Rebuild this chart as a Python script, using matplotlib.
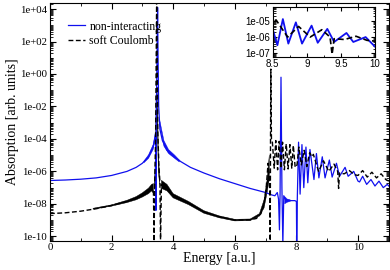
import numpy as np
import matplotlib.pyplot as plt
from matplotlib.ticker import LogLocator, MultipleLocator, FuncFormatter, NullFormatter

plt.rcParams['font.family'] = ['Liberation Serif', 'DejaVu Serif']

# non-interacting spectrum: energy [a.u.] and log10(absorption)
ni_energy = [0.0, 0.5, 1.0, 1.5, 2.0, 2.5, 2.8, 3.0, 3.2, 3.35, 3.43, 3.44, 3.45,
             3.48, 3.495, 3.51, 3.53, 3.57, 3.65, 3.8, 4.0, 4.25, 4.56, 5.0, 5.5, 6.0,
             6.5, 7.0, 7.2, 7.3, 7.38, 7.42, 7.45, 7.47, 7.5, 7.53, 7.56, 7.59,
             7.65, 7.8, 7.95, 8.0, 8.01, 8.03, 8.07, 8.12, 8.18, 8.24, 8.31, 8.37,
             8.44, 8.5, 8.57, 8.65, 8.73, 8.84, 8.93, 9.07, 9.16, 9.3, 9.4, 9.58,
             9.68, 9.86, 10.0, 10.05, 10.15, 10.28, 10.42, 10.55, 10.68, 10.82,
             10.95, 11.0]
ni_log = [-6.56, -6.53, -6.48, -6.4, -6.25, -6.0, -5.75, -5.5, -5.1, -4.5, -3.8, -8.4, -3.0,
          1.6, 4.1, 1.0, -2.0, -3.4, -4.1, -4.7, -5.05, -5.4, -5.75, -6.1, -6.45, -6.75,
          -7.05, -7.3, -7.45, -7.5, -7.3, -7.7, -9.6, -7.4, -0.2, -7.0, -10.5, -7.5,
          -7.75, -7.8, -7.8, -7.85, -10.5, -7.6, -4.2, -7.4, -4.35, -7.0, -4.5, -6.7,
          -4.65, -5.5, -6.5, -4.9, -6.4, -5.1, -6.4, -5.3, -6.35, -5.5, -6.3, -5.75,
          -6.3, -6.0, -6.6, -6.65, -6.3, -6.8, -6.5, -6.9, -6.6, -7.0,
          -6.8, -6.9]
# spread of the fast oscillations around the blue curve
ni_band_energy = [3.05, 3.2, 3.35, 3.42, np.nan, 3.56, 3.7, 3.85, 4.05, 4.2, np.nan, 7.62, 7.7, 7.8]
ni_band_lo = [-5.47, -5.2, -4.65, -4.0, np.nan, -3.1, -4.45, -4.9, -5.2, -5.42, np.nan, -8.0, -7.9, -7.85]
ni_band_hi = [-5.37, -4.98, -4.35, -3.6, np.nan, -2.8, -4.1, -4.65, -5.0, -5.3, np.nan, -7.55, -7.7, -7.75]

# soft Coulomb spectrum
sc_energy = [0.0, 0.5, 1.0, 1.5, 2.0, 2.5, 2.8, 3.0, 3.2, 3.3, 3.36, 3.38, 3.4,
             3.43, 3.465, 3.5, 3.54, 3.57, 3.59, 3.62, 3.75, 4.0, 4.5, 5.0, 5.5,
             6.0, 6.5, 6.7, 6.85, 6.95, 7.02, 7.08, 7.13, 7.15, 7.16, 7.17, 7.19,
             7.22, 7.28, 7.33, 7.39, 7.44, 7.5, 7.55, 7.61, 7.67, 7.73, 7.79, 7.85,
             7.9, 7.96, 8.02, 8.08, 8.16, 8.25, 8.34, 8.43, 8.5, 8.55, 8.72, 8.88,
             9.05, 9.22, 9.34, 9.37, 9.4, 9.55, 9.72, 9.88, 10.0, 10.15, 10.3,
             10.45, 10.6, 10.75, 10.9, 11.0]
sc_log = [-8.6, -8.55, -8.45, -8.3, -8.1, -7.85, -7.65, -7.45, -7.2, -7.0, -7.2, -10.3, -6.8,
          -4.0, 5.0, -3.5, -5.8, -6.6, -10.2, -6.8, -7.0, -7.5, -7.95, -8.5, -8.8,
          -9.0, -8.98, -8.9, -8.6, -8.0, -7.0, -5.5, -6.5, -10.5, -4.0, 0.3, -4.0,
          -4.2, -5.8, -4.1, -5.9, -4.15, -5.8, -4.2, -5.9, -4.3, -5.85, -4.35, -5.8,
          -4.4, -5.75, -5.6, -4.5, -5.6, -4.7, -5.7, -4.85, -5.1, -4.95, -6.0, -5.35,
          -6.0, -5.55, -6.0, -7.05, -6.1, -6.15, -5.95, -6.2, -6.25, -5.95, -6.35,
          -6.05, -6.4, -6.15, -6.5, -6.6]
# spread of the fast oscillations around the black curve
sc_band_energy = [1.4, 2.0, 2.5, 2.8, 3.0, 3.2, 3.3, 3.36, np.nan, 3.4, 3.43, 3.45, np.nan,
                  3.49, 3.52, 3.56, np.nan, 3.62, 3.8, 4.0, 4.5, 5.0, 5.5, 6.0, 6.5,
                  6.8, 6.95, 7.05, 7.12]
sc_band_lo = [-8.33, -8.14, -7.92, -7.75, -7.58, -7.37, -7.2, -7.35, np.nan, -7.1, -5.5, -3.5, np.nan,
              -3.5, -6.0, -6.8, np.nan, -7.05, -7.2, -7.63, -8.05, -8.58, -8.86, -9.05, -9.03,
              -8.75, -8.25, -7.3, -6.5]
sc_band_hi = [-8.27, -8.06, -7.78, -7.55, -7.32, -7.03, -6.8, -6.75, np.nan, -6.5, -4.5, -1.0, np.nan,
              -1.0, -5.0, -6.2, np.nan, -6.55, -6.8, -7.37, -7.85, -8.42, -8.74, -8.95, -8.93,
              -8.6, -7.75, -6.5, -5.0]

x_ticks = [0, 2, 4, 6, 8, 10]
inset_x_ticks = [8.5, 9, 9.5, 10]
inset_x_labels = ['8.5', '9', '9.5', '10']


def draw(ax, lw_ni, lw_sc, with_labels):
    ax.fill_between(ni_band_energy, 10.0 ** np.array(ni_band_lo), 10.0 ** np.array(ni_band_hi),
                    color='#1010ee', lw=0.3)
    ax.plot(ni_energy, 10.0 ** np.array(ni_log), color='#1010ee', lw=lw_ni,
            label='non-interacting' if with_labels else None)
    ax.fill_between(sc_band_energy, 10.0 ** np.array(sc_band_lo), 10.0 ** np.array(sc_band_hi),
                    color='black', lw=0.3)
    ax.plot(sc_energy, 10.0 ** np.array(sc_log), color='black', lw=lw_sc,
            linestyle=(0, (3.5, 1.8)), label='soft Coulomb' if with_labels else None)


fig = plt.figure(figsize=(3.9, 2.7), dpi=100)
ax = fig.add_axes([0.128, 0.109, 0.869, 0.881])
draw(ax, 0.9, 1.0, True)
ax.set_yscale('log')
ax.set_xlim(0, 11)
ax.set_ylim(10 ** -10.26, 10 ** 4.39)
ax.set_xticks(x_ticks)
ax.xaxis.set_minor_locator(MultipleLocator(1))
ax.yaxis.set_major_locator(LogLocator(base=100, numticks=20))
ax.yaxis.set_minor_locator(LogLocator(base=10, subs=np.arange(1, 10), numticks=40))
ax.yaxis.set_minor_formatter(NullFormatter())
ax.yaxis.set_major_formatter(FuncFormatter(lambda v, p: f'{v:.0e}'))
ax.tick_params(which='both', direction='in', top=True, right=True, labelsize=7.8, pad=2)
ax.tick_params(which='major', length=4.5)
ax.tick_params(which='minor', length=2.5)
ax.set_xlabel('Energy [a.u.]', fontsize=10, labelpad=0)
ax.set_ylabel('Absorption [arb. units]', fontsize=10, labelpad=1)
ax.legend(loc='upper left', bbox_to_anchor=(0.04, 0.945), frameon=False, fontsize=8.5,
          handlelength=1.4, handletextpad=0.4, labelspacing=0.2, borderaxespad=0)

ins = fig.add_axes([0.699, 0.790, 0.263, 0.183])
draw(ins, 1.3, 1.2, False)
ins.set_yscale('log')
ins.set_xlim(8.5, 10)
ins.set_ylim(10 ** -7.2, 10 ** -4.18)
ins.set_xticks(inset_x_ticks)
ins.set_xticklabels(inset_x_labels)
ins.xaxis.set_minor_locator(MultipleLocator(0.25))
ins.yaxis.set_major_locator(LogLocator(base=10, numticks=10))
ins.yaxis.set_minor_locator(LogLocator(base=10, subs=np.arange(2, 10), numticks=20))
ins.yaxis.set_minor_formatter(NullFormatter())
ins.yaxis.set_major_formatter(FuncFormatter(lambda v, p: f'{v:.0e}'))
ins.tick_params(which='both', direction='in', top=True, right=True, labelsize=7, pad=1.5)
ins.tick_params(which='major', length=3)
ins.tick_params(which='minor', length=1.8)
for lab in ins.get_xticklabels() + ins.get_yticklabels():
    lab.set_family('Liberation Sans')

fig.savefig('out.png', dpi=100)
